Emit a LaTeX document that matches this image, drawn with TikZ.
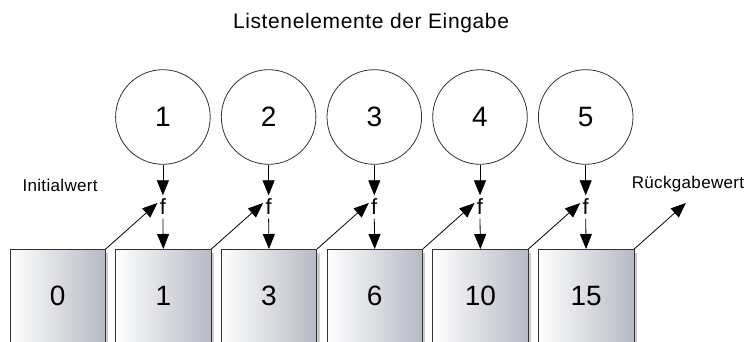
\documentclass[tikz,border=0pt]{standalone}
\usepackage{fontspec}
\setmainfont{Liberation Sans}
\newfontfamily\titlefont[LetterSpace=3]{Liberation Sans}
\newfontfamily\labelfont[LetterSpace=2]{Liberation Sans}
\usetikzlibrary{arrows.meta,shadows}
\definecolor{boxgray}{RGB}{182,186,196}
\definecolor{linegray}{RGB}{50,50,50}
\tikzset{
  elem/.style={circle,draw=linegray,line width=0.8pt,minimum size=94.6pt,inner sep=0pt,font=\fontsize{28}{30}\selectfont},
  fnode/.style={inner xsep=2pt,inner ysep=3.5pt,font=\fontsize{22}{24}\selectfont},
  accbox/.style={rectangle,draw=linegray,line width=0.7pt,anchor=north west,
    minimum width=95.5pt,minimum height=94pt,inner sep=0pt,
    left color=white,right color=boxgray,
    drop shadow={shadow xshift=3pt,shadow yshift=-4pt,fill=black!20,opacity=1},
    font=\fontsize{28}{30}\selectfont},
  arr/.style={line width=0.8pt,-{Triangle[length=15pt,width=12pt]}},
  lbl/.style={anchor=base west,font=\labelfont\fontsize{17}{19}\selectfont}
}
\begin{document}
\begin{tikzpicture}[x=1pt,y=1pt]
\useasboundingbox (0,0) rectangle (744,-342);
\clip (0,0) rectangle (744,-342);
\node[anchor=base,font=\titlefont\fontsize{21}{23}\selectfont] (title) at (371,-28.5) {Listenelemente der Eingabe};
\foreach \i in {1,...,5}{
  \pgfmathsetmacro{\xx}{162.9+105.7*(\i-1)}
  \node[elem] (c\i) at (\xx,-117) {\i};
  \node[fnode] (f\i) at (\xx,-207) {f};
  \coordinate (p\i) at (\xx-5.5,-203);
}
\coordinate (p6) at (685.9,-203);
\foreach \j/\v in {0/0,1/1,2/3,3/6,4/10,5/15}{
  \pgfmathsetmacro{\bx}{9.5+105.7*\j}
  \node[accbox] (b\j) at (\bx,-249) {\v};
}
\foreach \i in {1,...,5}{
  \draw[arr] (c\i.south) -- (f\i.north);
  \draw[arr] (f\i.south) -- (b\i.north);
}
\foreach \j [evaluate=\j as \k using int(\j+1)] in {0,...,5}{
  \draw[arr] (b\j.north east) -- (p\k);
}
\node[lbl] (init) at (19,-191.3) {Initialwert};
\node[lbl] (ret) at (628.3,-188.3) {Rückgabewert};
\end{tikzpicture}
\end{document}
